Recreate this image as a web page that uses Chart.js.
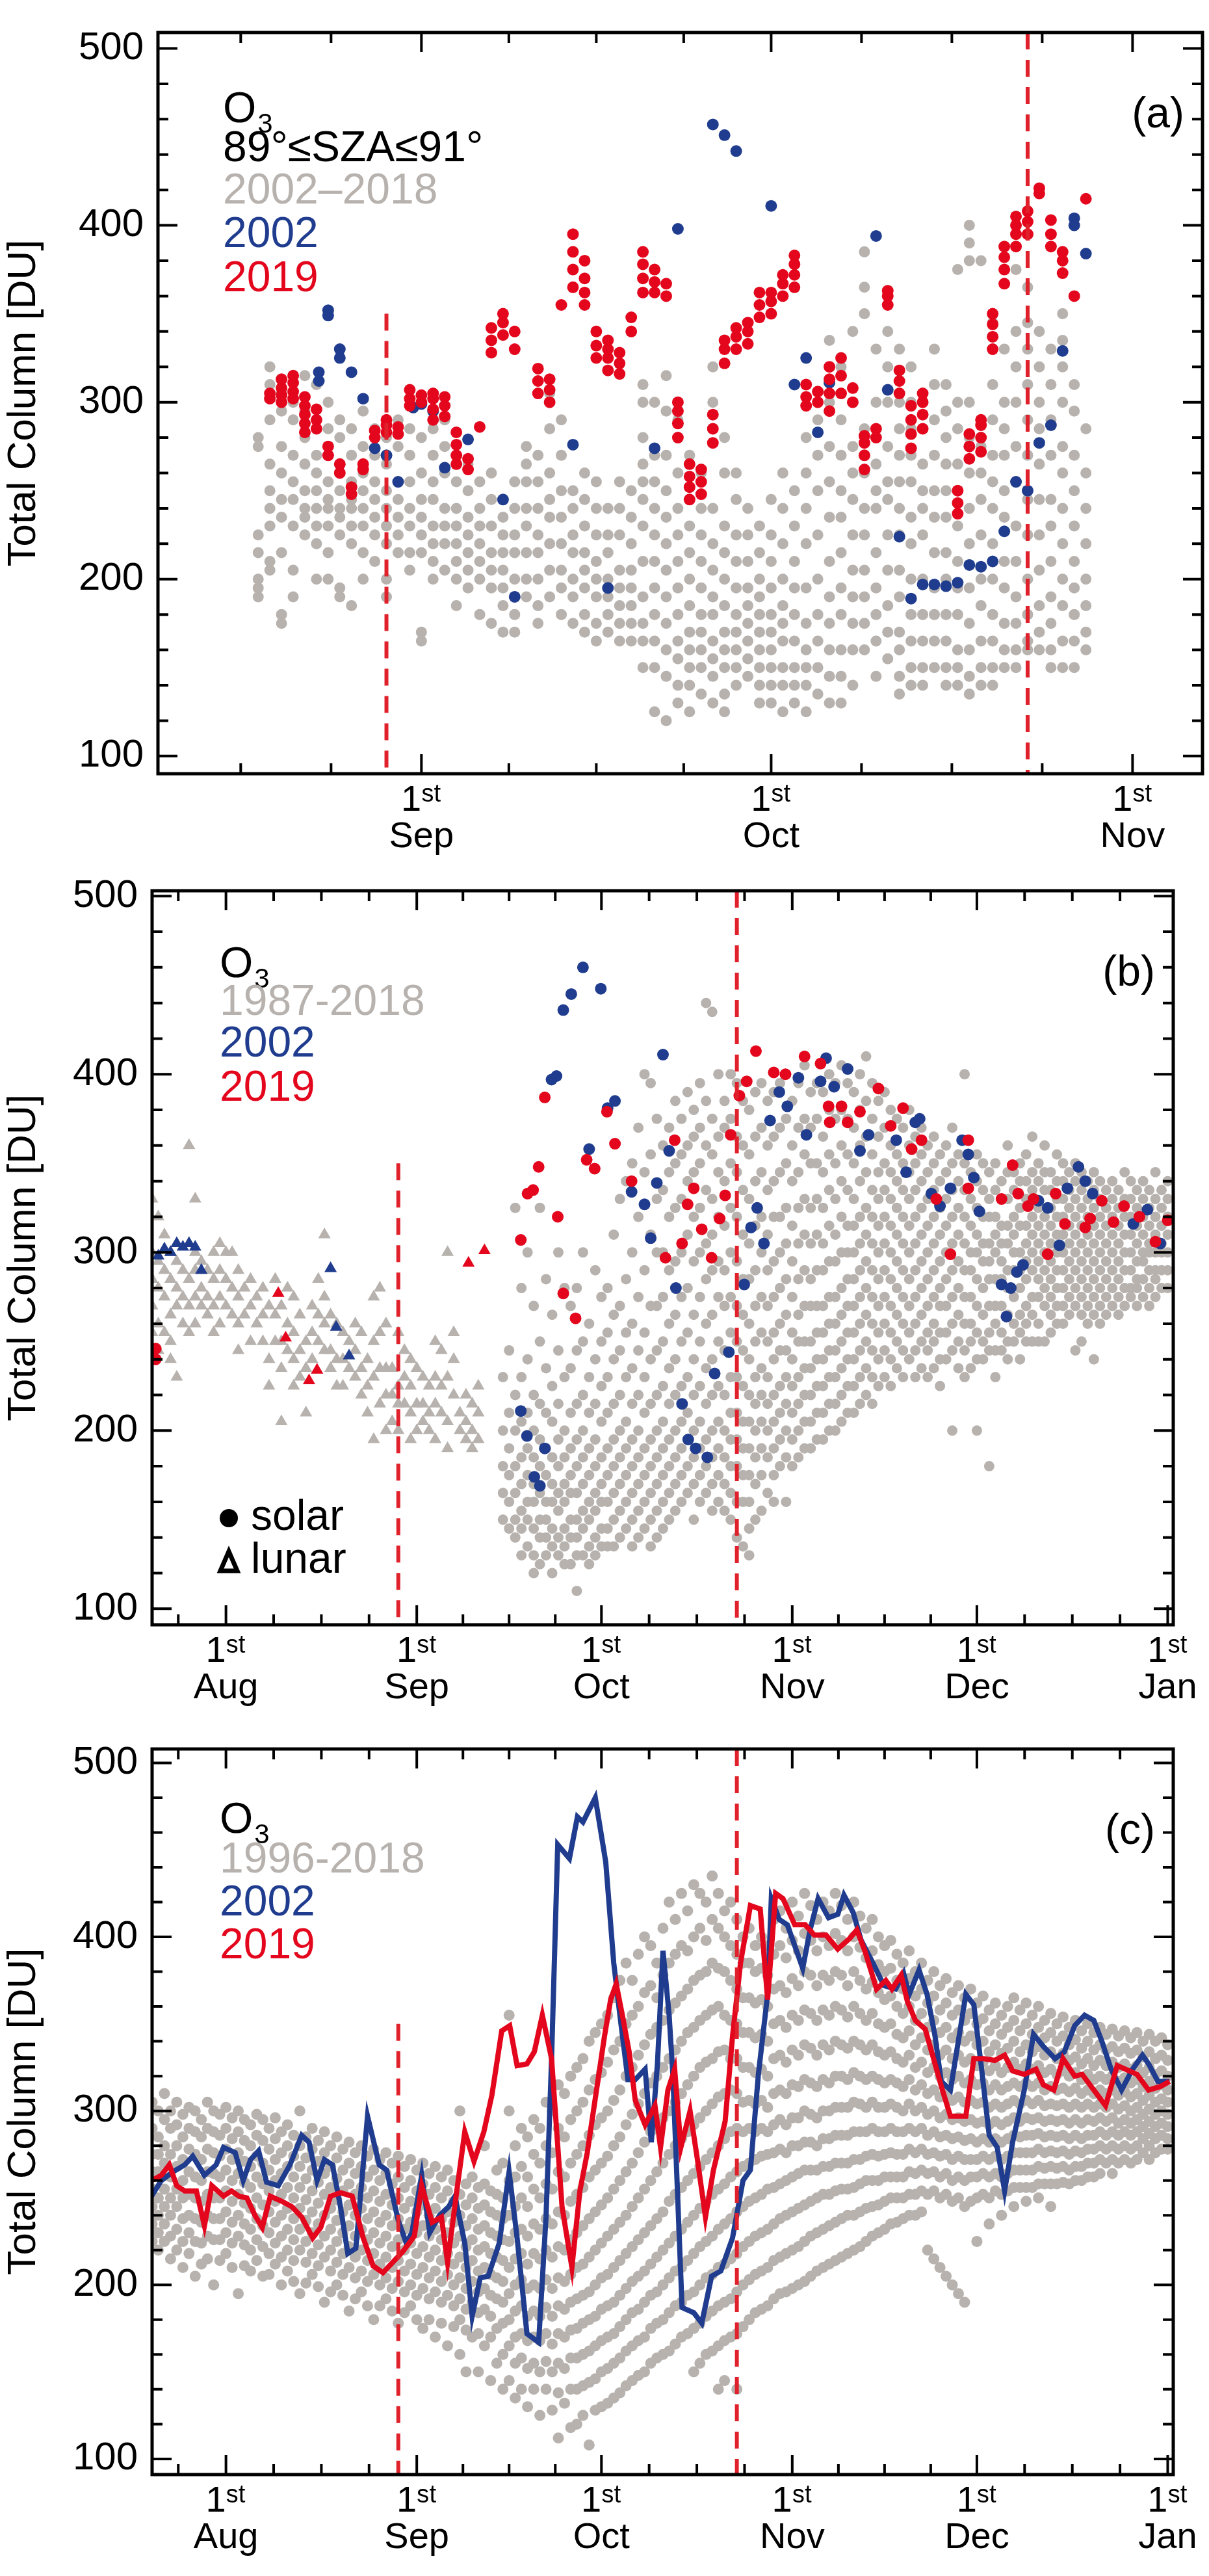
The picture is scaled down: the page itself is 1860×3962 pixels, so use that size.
<!DOCTYPE html>
<html>
<head>
<meta charset="utf-8">
<script src="https://cdn.jsdelivr.net/npm/chart.js@4.4.0/dist/chart.umd.min.js"></script>
<style>
body { margin:0; background:#fff; width:1860px; height:3962px; position:relative; overflow:hidden; }
.panel { position:absolute; left:0; width:1860px; }
</style>
</head>
<body>
<div class="panel" style="top:0;height:1320px"><canvas id="ca" width="1860" height="1320"></canvas></div>
<div class="panel" style="top:1320px;height:1320px"><canvas id="cb" width="1860" height="1320"></canvas></div>
<div class="panel" style="top:2640px;height:1322px"><canvas id="cc" width="1860" height="1322"></canvas></div>
<script>
// x values are days since 1 Aug (1 Sep = 31, 1 Oct = 61 ...)
var monthStarts = [-31, 0, 31, 61, 92, 122, 153];
var monthNames = ['Jul', 'Aug', 'Sep', 'Oct', 'Nov', 'Dec', 'Jan'];
var yTicks = [100, 200, 300, 400, 500];
var dashDays = [28, 83];

// panel (a) 89<=SZA<=91, rows "day:values"
var grayA = [
"17:200 195 280 275 225 215 190","18:320 310 290 265 250 240 230 210 205","19:305 295 275 260 245 235 215 180 175",
"20:300 290 270 255 245 230 205 190","21:315 295 280 265 250 240 235 225","22:310 290 270 260 250 240 230 220 200",
"23:300 285 270 255 245 240 230 215 200","24:290 280 265 250 240 235 225 195 190","25:285 270 255 245 240 230 220 185",
"26:295 275 260 250 240 230 215 200","27:285 270 255 245 235 225 210","28:280 265 250 240 230 220 200 190",
"29:290 275 255 245 235 225 215","30:285 270 255 240 230 215 205","31:280 260 245 235 225 215 170 165",
"32:285 270 255 245 230 220 210 200","33:290 275 260 240 230 220 205","34:270 255 240 230 220 210 200 185",
"35:265 250 235 225 215 205 195","36:255 240 230 220 210 200 180","37:260 245 230 215 205 195 175",
"38:245 235 225 215 205 195 185 170","39:255 240 225 215 200 190 180 170","40:275 265 255 240 230 215 200 190",
"41:270 255 240 225 215 200 185 175","42:305 285 260 245 235 220 205 190","43:290 270 250 235 220 205 195 180",
"44:365 250 240 225 215 200 190 175","45:260 245 230 215 205 195 180 170","46:255 240 225 210 200 190 175 165",
"47:240 225 215 200 190 180 170","48:255 240 225 205 195 185 175 165","49:250 235 220 205 195 185 175 165",
"50:310 300 280 265 255 245 230 210 190 175 165 150","51:300 270 255 240 225 210 195 180 165 150 125",
"52:315 295 270 250 235 220 205 190 175 160 145 120","53:290 260 240 225 210 195 180 165 155 140 130",
"54:270 245 230 215 200 185 170 160 150 140 125","55:260 240 225 210 195 180 170 160 150 135",
"56:320 300 285 240 220 205 190 180 165 155 145 130","57:280 260 230 215 200 185 170 160 150 135 125",
"58:260 245 225 210 195 180 170 160 150 140","59:240 225 210 195 185 175 165 155 145",
"60:230 215 200 190 180 170 160 150 140 130","61:245 225 210 195 180 170 160 150 140 130",
"62:260 240 220 200 185 175 165 150 140 125","63:250 230 210 195 180 165 150 140 130",
"64:280 260 240 220 195 175 160 150 140 125","65:290 270 250 225 200 180 165 150 135",
"66:335 300 275 255 235 210 190 175 160 145 130","67:320 290 270 250 235 215 195 180 160 145 130",
"68:340 300 275 260 245 225 205 190 175 160 140","69:385 365 350 285 260 240 225 205 190 175 160",
"70:330 300 280 265 250 240 215 195 180 165 145","71:340 320 300 275 255 245 225 205 185 170 155",
"72:330 300 285 270 255 240 225 205 190 170 160 145 135","73:320 300 285 270 255 235 220 200 180 165 150 140",
"74:300 285 265 250 240 225 200 180 165 150 140","75:330 310 290 270 250 235 215 195 180 165 150",
"76:310 295 280 265 250 235 215 200 180 165 150 140","77:375 300 285 265 250 230 210 195 180 160 150 140",
"78:400 390 380 300 280 260 240 220 195 175 160 145 135","79:380 290 275 260 245 225 200 185 165 150 140",
"80:345 330 310 290 270 255 240 220 200 180 165 150 140","81:330 300 285 270 250 235 210 195 175 160 150",
"82:375 340 320 300 275 255 230 210 190 175 160 150","83:365 345 330 310 290 270 245 225 200 180 165 160",
"84:340 320 300 285 265 245 225 205 185 170 160","85:330 310 290 270 245 230 210 190 175 160 150",
"86:350 335 320 300 275 260 240 220 200 185 165 150","87:310 295 270 250 230 210 195 180 165 150",
"88:285 260 240 220 200 185 170 160"
];
var redA = [
"18:302 305","19:300 304 308 313","20:302 306 311 315","21:283 288 293 298 303","22:285 290 296","23:270 275",
"24:260 265","25:248 252","26:262 265","27:280 284","28:283 287 290","29:282 286","30:298 302 307","31:300 304",
"32:290 296 302 305","33:292 298 303","34:265 270 276 283","35:262 268","36:286","37:328 335 342","38:338 345 350",
"39:330 340","41:305 312 319","42:300 307 313","43:355","44:365 375 385 395","45:355 362 370 380","46:325 332 340",
"47:318 325 330 335","48:316 322 328","49:340 348","50:362 370 378 385","51:362 368 375","52:360 367",
"53:280 288 295 300","54:245 252 258 265","55:248 255 262","56:277 285 293","57:322 330 335","58:330 337 342",
"59:333 340 345","60:348 355 362","61:350 357 362","62:360 367 372","63:365 372 378 383","64:298 303 310",
"65:300 306","66:295 305 313 320","67:305 315 325","68:300 308","69:262 270 277 281","70:280 285","71:355 360 363",
"72:305 312 318","73:274 282 290 298","74:285 293 300 305","77:237 243 250","78:268 275 282","79:272 280 287 290",
"80:330 337 344 350","81:367 375 382 388","82:388 395 400 405","83:395 402 408","84:418 421","85:388 395 403",
"86:373 380 385","87:360","88:415"
];
var blueA = [
"22.2:317 312","23:352 349","24:330 325","25:317","26:302","27:274","28:270","29:255","30.3:297","31:299","32:295","33:263",
"35:279","38:245","39:190","44:276","47:195","51:274","53:398","56:457","57:451","58:442","61:411","63:310","64:325",
"65:283","66:311","70:394","71:307","72:224","73:189","74:197","75:197","76:196","77:198","78:208","79:207","80:210",
"81:227","82:255","83:250","84:277","85:287","86:329","87:404 400","88:384"
];

// panel (b) solar and lunar
var grayLunarB = [
"-12:330 300 285 270 255","-11:320 295 280 260 245","-10:310 290 275 255","-9:300 285 265 250 240","-8:295 280 270 230",
"-7:290 275 260","-6:360 305 285 270 255","-5:330 300 290 275 260","-4:295 280 270","-3:290 275 265","-2:300 285 270 255",
"-1:305 290 275 260","0:300 285 270","1:300 280 265","2:290 275 260 245","3:280 265","4:285 270 250","5:275 260",
"6:280 265 250","7:270 240 225","8:285 265 250","9:270 250 235 205","10:280 260 245","11:275 255 240 225",
"12:265 245 230","13:250 235 210","14:270 255 240","15:285 265 250","16:310 275 260 245","17:265 245 235",
"18:260 240 225","19:255 240 225","20:250 235","21:260 245 230","22:255 235 220","23:240 225 210","24:275 250 230 195",
"25:280 255 235 215","26:260 235 220 200","27:235 220 205","28:255 225 215 200","29:245 230 215","30:240 225 210 195",
"31:235 215 200","32:230 215 205","33:225 210 200","34:250 230 215 195","35:245 225 210","36:300 230 205 190",
"37:255 240 220","38:210 200","39:220 205 195","40:215 200 190","41:225 210 195"
];
var graySolarB = [
"45:230 200 180 165 150","46:245 210 190 175 160 145","47:325 220 200 180 165 150 140","48:280 230 205 185 170 155 145 130",
"49:300 240 210 190 175 160 150 135","50:270 220 200 185 170 160 145 130 120","51:325 250 215 195 180 165 150 140 125",
"52:285 235 210 190 175 160 150 140 130","53:265 225 205 185 170 160 145 135 120","54:300 245 215 195 180 165 155 140 130",
"55:280 230 200 185 170 160 145 135 125","56:270 235 210 190 175 165 150 140 125","57:280 245 215 195 180 165 150 140 130 110",
"58:300 250 220 200 185 170 155 145 130","59:260 230 210 190 175 160 150 135 125","60:290 240 215 195 180 165 155 140 130",
"61:275 250 225 205 185 170 160 145 135","62:280 255 230 210 190 175 160 145 135","63:310 265 240 215 195 180 165 150 135",
"64:330 270 245 220 200 185 170 155 140","65:340 285 255 230 205 190 175 160 145","66:350 300 260 235 215 195 180 165 150 135",
"67:370 320 275 245 220 200 185 170 155 140","68:400 345 290 255 230 210 190 175 160 145",
"69:395 355 310 270 240 215 195 180 165 150 135","70:375 330 300 270 245 220 200 185 170 155 140",
"71:360 335 300 275 250 225 205 190 175 160 145","72:370 345 320 290 260 235 215 195 180 165 150",
"73:385 350 325 295 265 240 220 200 185 170 155","74:375 355 330 300 275 250 225 205 190 175 160",
"75:390 360 340 310 280 255 230 210 195 180 165","76:380 365 345 320 295 265 240 220 200 185 170 150",
"77:395 370 350 325 300 275 250 225 205 190 175 160","78:440 385 360 335 305 285 260 235 215 195 180 165",
"79:435 375 355 330 310 290 265 240 220 200 185 170 155","80:400 365 345 320 295 275 250 225 205 190 175 160",
"81:385 370 340 315 290 270 245 220 200 185 170 155","82:400 375 350 325 300 275 255 230 210 195 180 165 150",
"83:395 365 345 320 295 270 250 230 210 195 180 160 140","84:385 360 335 310 285 265 245 225 205 190 175 160 135",
"85:380 355 330 305 285 260 240 220 205 190 175 160 145 130","86:390 365 340 315 290 270 250 230 215 200 185 170 150",
"87:395 370 345 320 300 275 255 235 220 205 190 175 155","88:385 360 335 310 290 270 250 230 215 200 185 165",
"89:390 365 340 320 295 275 255 240 220 205 190 175 160","90:395 370 345 320 300 280 260 245 225 210 195 180",
"91:400 375 350 325 305 285 265 245 230 215 200 185 160","92:385 360 340 315 295 275 255 240 225 210 195 180",
"93:395 370 345 325 305 285 265 250 230 215 200 185","94:405 375 355 330 310 290 270 250 235 220 205 190",
"95:390 370 350 325 305 285 270 250 235 220 205 190","96:395 375 350 330 310 290 270 255 240 225 210 195",
"97:390 365 345 325 305 290 270 255 240 225 210 195","98:400 380 355 335 315 295 275 260 245 230 215 200",
"99:395 375 350 330 310 295 275 260 245 230 215 200","100:405 380 360 340 320 300 280 265 250 235 220 205",
"101:395 375 355 335 315 300 285 270 255 240 225 210","102:390 370 350 330 315 300 285 270 255 240 225 210",
"103:400 380 360 340 320 305 290 275 260 245 230 215","104:410 385 365 345 325 310 295 280 265 250 235 220",
"105:395 375 355 335 320 305 290 275 260 245 230 215","106:385 365 345 330 315 300 285 270 255 240 225",
"107:390 370 350 335 320 305 290 275 260 245 230","108:380 360 345 330 315 300 285 270 255 240 225",
"109:375 355 340 325 310 295 280 265 250 235","110:370 350 335 320 305 290 275 260 245 230",
"111:380 360 345 330 315 300 285 270 255 240","112:365 350 335 320 305 290 275 260 245 230",
"113:370 355 340 325 310 295 280 265 250 235","114:360 345 330 315 300 285 270 255 245 230",
"115:365 350 335 320 305 290 275 260 250 235","116:355 340 325 310 295 280 270 255 240 225",
"117:360 345 330 315 300 285 270 255 240","118:370 350 335 320 305 290 275 260 245 200",
"119:355 340 325 310 295 280 265 250 235","120:400 350 335 320 305 290 275 260 245 230",
"121:345 330 315 300 290 275 260 250 235","122:355 340 325 310 300 285 270 255 240 200",
"123:350 335 320 305 295 280 265 250 240","124:345 330 320 305 295 285 270 255 245 180",
"125:350 335 320 310 300 285 270 260 245 230","126:340 330 315 305 295 285 270 255 245",
"127:360 345 330 315 305 290 280 265 250 240","128:345 335 320 310 300 290 275 260 250",
"129:350 340 325 315 300 290 280 265 255 240","130:355 340 330 315 305 295 285 270 260 250",
"131:365 345 335 320 310 300 290 275 265 250","132:350 340 325 315 305 295 285 275 260 250",
"133:360 345 335 320 310 300 290 280 270 250","134:345 335 325 315 305 295 285 275 265 255",
"135:355 340 330 320 310 300 290 280 270 260","136:350 340 330 320 310 300 290 280 270 260",
"137:345 335 325 315 305 295 285 275 265","138:350 340 330 320 310 300 290 280 270 245",
"139:345 335 325 315 305 295 285 275 265 250","140:340 330 320 310 300 290 280 270 260",
"141:345 335 325 315 305 295 285 275 265 240","142:340 330 320 310 300 290 280 270 260",
"143:335 325 315 305 295 285 275 265","144:340 330 320 310 300 290 280 270","145:335 325 315 305 295 285 275 265",
"146:345 330 320 310 300 290 280 270","147:340 330 320 310 300 290 280 275","148:335 325 315 305 295 285 280 270",
"149:340 330 320 310 300 295 285 275","150:335 325 315 305 300 290 280 270","151:345 330 320 310 300 290 285 275",
"152:335 325 315 305 300 290 280","153:340 330 320 310 300 290 280"
];
var redLunarB = ["8.5:277","9.7:252","13.5:228","14.8:234","39.4:294","42:301"];
var blueLunarB = ["-11:298","-10:302","-9:300","-8:305","-7:303","-6:305","-5:303","-4:290","17:291","17.9:258","20:242"];
var redSolarB = [
"-11.4:246 240","47.9:307","49:333","49.9:335","50.8:348","51.8:387","53.9:320","54.8:277","56.8:263","58.6:352","59.9:347",
"61.9:379","63.2:361","65.9:340","71.4:297","72.9:363","74.1:305","75:327","76:336","77.3:313","78.9:297","80.2:319",
"81.1:332","82:366","83.4:388","84.6:396","86.1:413","89:401","90.9:400","94:410","96.6:406","97.9:382","98.1:373",
"100:382","101:373","103:379","106:392","108:371","110:381","111.4:358","113:363","115.4:330","117.7:299","120.6:363 336",
"126:330","127.8:349","128.7:333","130.3:326","131.2:330","133.5:299","134.8:333","136.3:316","139.6:314","140.4:319",
"142.3:329","144.2:317","145.9:326","148.4:320","151:306","153:318"
];
var blueSolarB = [
"47.9:211","48.9:197","51.8:190","50.1:174","51:169","52.9:397","53.7:399","54.8:436","56.1:445","58:460","60.9:448",
"59:358","62:381","63.2:385","65.9:334","68:327","69:308","70:339","71:411","72:357","73.1:280","74.1:215","75.1:195",
"76.3:190","78.2:185","79.4:232","81.7:244","84.2:282","85.3:314","86.3:325","87.4:305","88.4:374","89.9:390","91.2:382",
"93:398","94.3:366","96.6:396","97.5:409","98.8:393","101:403","103:357","104.4:366","108.9:363","110.5:345","112:373",
"112.7:375","114.6:333","116:326","117.7:336","119.6:363","120.6:355","121.5:342","122.4:323","126:282","126.8:264",
"127.5:280","128.5:289","129.5:293","132:329","133.5:325","135.4:304","136.7:336","138.5:348","139.6:340","140.8:333",
"147.4:316","149.7:324","151.8:305"
];

// panel (c) 1996-2018 scatter, 2002 and 2019 lines
var grayC = [
"-12:305 290 275 265 255 245 235 225","-11:300 285 275 265 250 240 230 220","-10:310 295 280 270 255 245 235 225",
"-9:300 290 275 262 250 240 228 215","-8:305 292 280 268 255 245 232 220","-7:298 285 272 260 250 238 225 210",
"-6:302 290 278 265 252 240 230 218","-5:300 288 275 262 250 238 225 205","-4:295 285 272 260 248 236 224 212",
"-3:305 290 278 265 252 240 228 215","-2:300 288 276 264 250 238 226 200","-1:298 286 274 262 250 238 226 214",
"0:302 290 278 266 254 242 230 218","1:296 284 272 260 248 236 224 210","2:300 288 276 264 252 240 228 195",
"3:295 283 271 259 247 235 223 211","4:292 280 268 256 244 232 220 208","5:298 286 274 262 250 238 226 214",
"6:295 283 270 258 246 234 222 205","7:290 278 266 254 242 230 218 206","8:296 284 272 260 248 236 224 212",
"9:288 276 264 252 240 228 216 200","10:292 280 268 256 244 232 220 208","11:286 274 262 250 238 226 214 202",
"12:300 280 268 256 244 232 220 195","13:285 273 261 249 237 225 213 201","14:290 278 266 254 242 230 218 206",
"15:283 271 259 247 235 223 211 199","16:288 276 264 252 240 228 216 190","17:280 268 256 244 232 220 208 196",
"18:285 273 261 249 237 225 213 200","19:278 266 254 242 230 218 206 194","20:282 270 258 246 234 222 210 185",
"21:276 264 252 240 228 216 204 192","22:280 268 256 244 232 220 208 196","23:274 262 250 238 226 214 202 188",
"24:278 266 254 242 230 218 206 180","25:272 260 248 236 224 212 200 188","26:276 264 252 240 228 216 204 192",
"27:270 258 246 234 222 210 198 185","28:274 262 250 238 226 214 202 178","29:268 256 244 232 220 208 196 184",
"30:272 260 248 236 224 212 200 188","31:266 254 242 230 218 206 194 180","32:270 258 246 234 222 210 198 175",
"33:264 252 240 228 216 204 192 180","34:268 256 244 232 220 208 196 170","35:262 250 238 226 214 202 190 178",
"36:266 254 242 230 218 206 194 165","37:260 248 236 224 212 200 188 176","38:300 252 240 228 216 204 192 180 160",
"39:258 246 234 222 210 198 186 174 150","40:262 250 238 226 214 202 190 170","41:256 244 232 220 208 196 184 172 150",
"42:280 258 246 234 222 210 198 186 165","43:254 242 230 218 206 194 182 170 145","44:266 252 240 228 216 204 192 175 155",
"45:270 250 238 226 214 202 190 178 160 140","46:355 300 260 240 225 210 195 180 165 145",
"47:280 262 245 230 215 200 185 170 155 135","48:290 268 250 232 218 203 188 172 158 140",
"49:285 262 245 228 212 198 182 168 152 130","50:295 275 255 235 218 200 185 170 155 140",
"51:290 270 250 232 215 198 182 168 150 125","52:305 280 258 238 220 203 187 172 156 140",
"53:300 276 255 235 216 198 182 166 150 128","54:315 290 265 242 222 204 188 172 155 138 112",
"55:310 285 262 240 220 202 186 170 152 132","56:320 295 270 248 226 206 190 174 158 140 118",
"57:325 300 275 252 230 210 192 175 158 140 120","58:330 305 280 256 234 212 194 178 160 142 125",
"59:340 312 286 262 238 216 196 180 162 144 108","60:345 318 292 266 242 220 200 182 165 146 128",
"61:350 322 296 270 246 224 204 186 168 150 130","62:355 328 300 274 250 228 206 188 170 152 132",
"63:365 335 306 280 255 232 210 190 172 155 135","64:375 340 312 285 260 236 214 194 176 158 138",
"65:385 350 320 292 265 240 218 198 180 162 142","66:375 355 325 298 270 245 222 202 184 165 145",
"67:390 360 332 304 276 250 226 205 186 168 148","68:400 368 338 310 282 255 230 208 190 170 150",
"69:395 372 344 316 288 260 234 212 194 175 155","70:385 365 348 320 292 265 238 216 196 178 158",
"71:405 378 352 325 296 270 242 220 200 180 160","72:420 385 358 330 300 275 248 224 204 184 162",
"73:410 390 362 335 305 280 252 228 208 188 166","74:425 395 366 340 310 284 256 232 210 190 170",
"75:415 392 370 345 315 288 260 236 214 194 172","76:430 400 375 348 320 292 264 240 218 196 175 150",
"77:425 405 378 352 325 296 268 244 222 200 178 155","78:420 398 380 355 328 300 272 248 225 204 182 160",
"79:435 410 385 358 330 304 276 252 228 206 185 162","80:425 405 382 360 334 308 280 255 232 210 188 165 140",
"81:415 400 380 355 335 310 284 258 235 212 190 168 145","82:420 395 375 352 330 312 288 262 238 215 192 170",
"83:410 390 370 350 330 310 290 265 242 218 196 172 140","84:400 385 365 345 325 305 288 268 245 222 200 176",
"85:405 385 365 345 325 306 290 270 248 225 203 180","86:395 380 362 342 322 304 288 272 250 228 206 184",
"87:400 382 364 344 324 306 290 274 252 230 208 186","88:395 378 360 340 320 302 288 275 255 232 210 188",
"89:410 390 370 350 330 310 292 276 256 235 214 192","90:415 395 372 352 332 312 295 278 258 238 216 195",
"91:405 388 368 348 328 310 292 276 260 240 218 196","92:420 398 376 355 335 315 296 280 262 242 220 198",
"93:412 392 372 352 332 314 296 280 264 244 222 200","94:425 402 380 358 338 318 300 282 266 246 225 202",
"95:418 398 378 356 336 316 298 282 266 248 228 205","96:410 392 372 352 332 314 296 280 266 250 230 208",
"97:420 400 378 358 338 318 300 284 268 252 232 210","98:415 395 375 355 335 316 300 284 268 252 234 212",
"99:425 402 380 360 340 320 302 286 270 254 236 214","100:418 398 378 358 338 320 302 286 270 255 238 216",
"101:410 392 372 354 336 318 302 286 270 255 240 218","102:420 400 380 360 340 322 305 288 272 256 240 220",
"103:412 394 375 356 338 320 304 288 272 258 242 222","104:405 388 370 352 335 318 302 288 274 260 244 225",
"105:410 392 374 356 338 320 305 290 275 260 245 228","106:400 384 368 350 334 318 302 288 274 260 246 230",
"107:395 380 364 348 332 316 302 288 275 262 248 232","108:398 382 366 350 334 318 304 290 276 262 250 235",
"109:390 375 360 344 330 316 302 288 275 262 250 236","110:385 370 356 342 328 314 300 288 275 262 250 238",
"111:392 376 360 346 332 318 304 290 278 265 252 240","112:380 366 352 338 325 312 300 288 276 264 252 240",
"113:385 370 356 342 328 315 302 290 278 266 254 242","114:375 362 348 335 322 310 298 286 275 264 252 220",
"115:380 366 352 338 325 312 300 288 276 265 254 215","116:372 358 345 332 320 308 296 285 274 262 250 210",
"117:376 362 348 335 322 310 298 286 275 264 252 205","118:368 355 342 330 318 306 295 284 272 260 248 200",
"119:372 358 345 332 320 308 296 285 274 262 250 195","120:365 352 340 328 316 305 294 283 272 260 245 190",
"121:370 356 343 330 318 306 295 284 272 262 248","122:362 350 338 326 315 304 293 282 272 262 250 225",
"123:366 353 340 328 316 305 294 284 274 264 252","124:358 346 334 323 312 302 292 282 272 262 250 235",
"125:362 350 338 326 315 304 294 284 274 264 254","126:355 344 333 322 312 302 292 282 272 262 252 240",
"127:360 348 336 325 314 304 294 284 274 264 254","128:365 352 340 328 316 306 296 286 276 266 256 245",
"129:358 346 334 324 314 304 294 285 276 266 256","130:362 350 338 327 316 306 296 286 276 266 256 248",
"131:355 344 334 324 314 304 295 286 276 266 256","132:360 348 337 326 316 306 296 287 278 268 258 250",
"133:352 342 332 322 312 303 294 285 276 267 258","134:356 345 334 324 314 304 295 286 277 268 258 245",
"135:350 340 330 321 312 303 294 285 276 267 258","136:354 343 333 323 313 304 295 286 277 268 259",
"137:348 338 329 320 311 302 293 284 275 266 258","138:352 341 331 322 313 304 295 286 277 268 260",
"139:346 336 327 318 310 302 293 284 276 268 260","140:350 340 330 321 312 304 295 286 278 270 262",
"141:345 335 326 318 310 302 294 286 278 270 262","142:348 338 329 320 312 304 296 288 280 272 264",
"143:344 335 326 318 310 302 294 286 278 270","144:347 337 328 320 312 304 296 288 280 272 264",
"145:343 334 325 317 309 301 293 286 278 270","146:346 336 327 319 311 303 295 288 280 272",
"147:342 333 324 316 308 300 293 286 278 270","148:345 335 326 318 310 302 295 288 280 272",
"149:340 331 322 314 306 298 291 284 276","150:344 334 325 317 309 301 294 287 280 272",
"151:340 330 321 313 305 298 291 284 276","152:342 332 323 315 307 300 293 286 278","153:338 329 320 312 305 298 291 284 278"
];
var blueDaysC = [-12.1,-10.5,-8.6,-6.7,-5.4,-3.5,-1.6,-0.4,1.5,2.8,4.0,5.3,6.6,8.5,10.4,12.3,13.5,14.8,16.0,17.3,18.6,19.8,21.1,23.0,24.9,26.1,28.0,29.3,30.2,31.8,33.1,34.7,36.2,37.2,38.8,40.0,41.3,42.6,44.4,46.0,47.3,48.9,50.8,52.0,52.9,53.9,55.8,57.1,58.0,60.0,61.7,63.0,64.0,65.3,66.5,68.1,69.1,70.1,71.0,72.0,72.6,74.1,76.0,77.3,78.9,80.4,82.3,84.0,85.2,86.5,88.0,88.6,89.9,91.2,92.4,93.7,94.9,96.2,97.9,99.4,100.4,101.9,103.2,105.1,106.9,108.8,110.1,111.0,112.6,113.9,115.2,116.2,117.7,119.3,120.2,121.5,122.7,124.0,125.3,126.5,127.8,129.7,131.2,132.8,134.7,136.2,137.9,139.5,141.0,142.3,143.8,145.5,147.3,148.9,149.9,151.4,153.3];
var blueValsC = [251,260,265,269,274,263,269,279,276,260,272,277,259,257,269,286,282,260,272,269,245,218,221,297,269,266,237,224,230,263,230,240,245,251,224,182,204,205,224,265,227,172,167,239,330,453,445,469,466,480,443,385,355,318,318,324,282,327,392,355,321,187,184,178,205,208,227,260,266,321,367,422,410,407,395,382,404,422,411,413,424,414,398,385,372,370,379,367,381,367,343,317,312,347,367,361,326,286,279,254,282,312,344,337,330,334,349,355,352,340,324,312,324,332,327,317,317];
var redDaysC = [-12.1,-10.5,-9.2,-8.0,-6.7,-4.8,-3.5,-2.3,-0.4,0.9,2.1,3.4,4.7,5.9,7.2,9.1,10.7,12.3,14.1,15.4,17.0,18.6,20.5,22.3,23.9,25.5,27.1,28.7,30.6,31.8,33.5,35.0,36.0,37.5,38.8,40.3,41.9,43.2,44.8,46.1,47.3,48.9,50.1,51.4,52.9,54.6,56.2,57.5,58.7,60.2,61.5,62.5,63.4,64.4,65.5,66.5,68.1,69.7,70.6,71.8,72.9,73.9,75.4,76.6,77.9,79.2,81.1,82.3,83.6,85.2,86.8,88.0,89.3,90.5,92.4,94.1,95.6,97.5,99.4,101.3,102.5,103.8,105.7,107.2,108.2,109.7,110.7,112.0,113.6,115.2,116.4,117.7,120.2,121.5,123.1,124.9,126.5,127.8,129.7,131.6,132.8,134.5,136.0,137.9,139.1,141.0,142.9,144.8,146.1,148.0,149.9,151.8,153.3];
var redValsC = [260,263,269,257,254,254,234,257,251,254,251,250,240,233,251,248,245,239,227,233,251,253,251,227,211,207,213,219,228,257,236,239,213,254,288,271,288,309,346,349,326,327,334,355,330,245,210,254,276,312,343,364,373,355,334,306,292,303,279,312,324,279,300,272,239,266,294,343,385,418,416,364,425,422,407,407,401,401,393,399,404,392,370,375,370,378,363,352,347,327,312,297,297,330,330,329,332,323,321,324,315,312,330,320,321,312,303,326,324,321,312,314,317];

var GRAY = '#b7b2ae', BLUE = '#1f3c8e', RED = '#e3061c', DASH = '#e0202a';
var FONT = '"Liberation Sans", Arial, sans-serif';

function rowsToPoints(rows) {
  var pts = [];
  rows.forEach(function (r) {
    var parts = r.split(':');
    parts[1].trim().split(/\s+/).forEach(function (v) { pts.push({ x: +parts[0], y: +v }); });
  });
  return pts;
}
function pairs(xs, ys) { return xs.map(function (x, i) { return { x: x, y: ys[i] }; }); }

// lower "order" is drawn on top
function scatterSet(rows, color, style, r, order) {
  return { type: 'scatter', data: rowsToPoints(rows), backgroundColor: color, borderColor: color, borderWidth: 0,
    pointStyle: style || 'circle', pointRadius: r || 8, pointHoverRadius: 0, order: order };
}
function lineSet(xs, ys, color, order) {
  return { type: 'line', data: pairs(xs, ys), borderColor: color, borderWidth: 8, pointRadius: 0, fill: false, tension: 0, order: order };
}

// frame, inward ticks, dashed lines and panel labels
var panelDeco = {
  id: 'panelDeco',
  afterDatasetsDraw: function (chart, args, o) {
    var c = chart.ctx, a = chart.chartArea, xs = chart.scales.x, ys = chart.scales.y;
    c.save();
    c.beginPath(); c.rect(a.left, a.top, a.right - a.left, a.bottom - a.top); c.clip();
    c.strokeStyle = DASH; c.lineWidth = 6; c.setLineDash([26, 16]);
    dashDays.forEach(function (d, i) {
      var x = xs.getPixelForValue(d);
      c.beginPath(); c.moveTo(x, i === 0 ? ys.getPixelForValue(350) : a.top); c.lineTo(x, a.bottom); c.stroke();
    });
    c.restore();

    c.save();
    c.strokeStyle = '#000'; c.lineWidth = 5;
    c.strokeRect(a.left, a.top, a.right - a.left, a.bottom - a.top);
    c.lineWidth = 4;
    for (var v = 100; v <= 500; v += 20) {
      var y = ys.getPixelForValue(v), L = v % 100 === 0 ? 30 : 16;
      c.beginPath(); c.moveTo(a.left, y); c.lineTo(a.left + L, y); c.moveTo(a.right, y); c.lineTo(a.right - L, y); c.stroke();
    }
    for (var m = 0; m < monthStarts.length - 1; m++) {
      var len = monthStarts[m + 1] - monthStarts[m];
      for (var k = 0; k < 4; k++) {
        var d = monthStarts[m] + len * k / 4;
        if (d < xs.min || d > xs.max) continue;
        var x = xs.getPixelForValue(d), L2 = k === 0 ? 30 : 16;
        c.beginPath(); c.moveTo(x, a.bottom); c.lineTo(x, a.bottom - L2); c.moveTo(x, a.top); c.lineTo(x, a.top + L2); c.stroke();
      }
    }
    if (153 <= xs.max) {
      var d153 = xs.getPixelForValue(153);
      c.beginPath(); c.moveTo(d153, a.bottom); c.lineTo(d153, a.bottom - 30); c.stroke();
    }

    // legend text
    c.textBaseline = 'middle';
    var lx = a.left + o.lx;
    o.lines.forEach(function (ln) {
      c.fillStyle = ln.color;
      c.font = '66px ' + FONT;
      if (ln.text === 'O3') {
        c.fillText('O', lx, a.top + ln.y);
        var w = c.measureText('O').width;
        c.font = '42px ' + FONT;
        c.fillText('3', lx + w + 2, a.top + ln.y + 22);
      } else {
        c.fillText(ln.text, lx, a.top + ln.y);
      }
    });
    c.font = '66px ' + FONT; c.fillStyle = '#000'; c.textAlign = 'right';
    c.fillText(o.tag, a.right - 28, a.top + o.tagY);
    c.textAlign = 'left';
    if (o.symbols) {
      c.beginPath(); c.arc(lx + 14, a.top + o.symbols, 14, 0, Math.PI * 2); c.fill();
      c.fillText('solar', lx + 48, a.top + o.symbols);
      var ty = a.top + o.symbols + 66;
      c.lineWidth = 7; c.setLineDash([]);
      c.beginPath(); c.moveTo(lx + 1, ty + 15); c.lineTo(lx + 27, ty + 15); c.lineTo(lx + 14, ty - 15); c.closePath(); c.stroke();
      c.fillText('lunar', lx + 48, ty);
    }
    c.restore();
  }
};

function makeChart(id, datasets, xmin, xmax, pad, deco) {
  return new Chart(document.getElementById(id), {
    data: { datasets: datasets },
    plugins: [panelDeco],
    options: {
      responsive: false, animation: false, devicePixelRatio: 1,
      layout: { padding: { left: 0, right: pad.right, top: pad.top, bottom: 0 } },
      plugins: { legend: { display: false }, tooltip: { enabled: false }, panelDeco: deco },
      scales: {
        x: {
          type: 'linear', min: xmin, max: xmax,
          grid: { display: false }, border: { display: false },
          afterBuildTicks: function (ax) {
            ax.ticks = monthStarts.filter(function (d) { return d >= xmin && d <= xmax; }).map(function (d) { return { value: d }; });
          },
          afterFit: function (ax) { ax.height = pad.xh; },
          ticks: {
            autoSkip: false, maxRotation: 0, padding: 6, color: '#000',
            font: { family: FONT, size: 56, lineHeight: 1.0 },
            callback: function (v) { return ['1\u02e2\u1d57', monthNames[monthStarts.indexOf(v)]]; }
          }
        },
        y: {
          min: pad.ymin, max: pad.ymax,
          grid: { display: false }, border: { display: false },
          afterBuildTicks: function (ax) { ax.ticks = yTicks.map(function (v) { return { value: v }; }); },
          afterFit: function (ax) { ax.width = pad.left; },
          ticks: { color: '#000', padding: 14, font: { family: FONT, size: 60 } },
          title: { display: true, text: 'Total Column [DU]', color: '#000', font: { family: FONT, size: 62 }, padding: { top: 0, bottom: 4 } }
        }
      }
    }
  });
}

makeChart('ca', [
  scatterSet(grayA, GRAY, 'circle', 8.5, 3),
  scatterSet(blueA, BLUE, 'circle', 9, 2),
  scatterSet(redA, RED, 'circle', 9, 1)
], 8.4, 98, { left: 243, right: 10, top: 13, xh: 130, ymin: 90, ymax: 509 }, {
  lx: 100, tag: '(a)', tagY: 128,
  lines: [{ text: 'O3', color: '#000', y: 120 }, { text: '89°≤SZA≤91°', color: '#000', y: 180 },
    { text: '2002–2018', color: GRAY, y: 245 }, { text: '2002', color: BLUE, y: 312 }, { text: '2019', color: RED, y: 380 }]
});

makeChart('cb', [
  scatterSet(grayLunarB, GRAY, 'triangle', 11, 6),
  scatterSet(graySolarB, GRAY, 'circle', 8, 5),
  scatterSet(blueLunarB, BLUE, 'triangle', 11, 4),
  scatterSet(redLunarB, RED, 'triangle', 11, 3),
  scatterSet(blueSolarB, BLUE, 'circle', 9, 2),
  scatterSet(redSolarB, RED, 'circle', 9, 1)
], -12, 153.9, { left: 234, right: 55, top: 29, xh: 141, ymin: 91, ymax: 503 }, {
  lx: 104, tag: '(b)', tagY: 128, symbols: 965,
  lines: [{ text: 'O3', color: '#000', y: 115 }, { text: '1987-2018', color: GRAY, y: 173 },
    { text: '2002', color: BLUE, y: 237 }, { text: '2019', color: RED, y: 305 }]
});

makeChart('cc', [
  scatterSet(grayC, GRAY, 'circle', 8.5, 3),
  lineSet(blueDaysC, blueValsC, BLUE, 2),
  lineSet(redDaysC, redValsC, RED, 1)
], -12, 153.9, { left: 234, right: 55, top: 15, xh: 156, ymin: 91, ymax: 508 }, {
  lx: 104, tag: '(c)', tagY: 128,
  lines: [{ text: 'O3', color: '#000', y: 111 }, { text: '1996-2018', color: GRAY, y: 172 },
    { text: '2002', color: BLUE, y: 238 }, { text: '2019', color: RED, y: 304 }]
});
</script>
</body>
</html>
